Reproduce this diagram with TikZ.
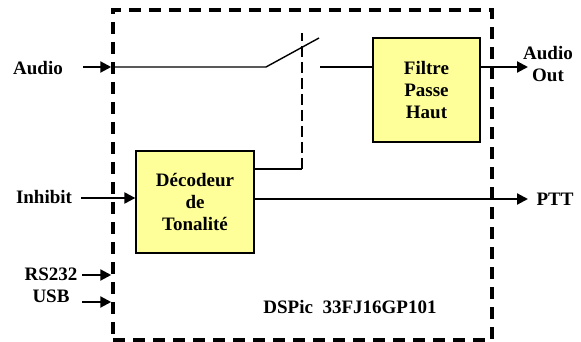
\documentclass[tikz,border=0pt]{standalone}
\usepackage{fontspec}
\setmainfont{Liberation Serif}
\usetikzlibrary{arrows.meta,positioning,calc}
\definecolor{blkfill}{HTML}{FFFF99}

\begin{document}
\begin{tikzpicture}[x=1pt,y=-1pt,font=\fontsize{19}{22}\selectfont\bfseries,
  blk/.style={draw,line width=1.3pt,fill=blkfill,align=center,inner sep=0pt},
  arr/.style={-{Triangle[length=11pt,width=11pt]},line width=2.2pt},
  wire/.style={line width=1.4pt}]
\useasboundingbox (0,0) rectangle (581,342);
% chip outline
\node[draw,line width=3.5pt,dash pattern=on 12pt off 8pt,minimum width=379pt,minimum height=330pt,inner sep=0pt] (dspic) at (302.5,175) {};
\node (chip) at (350,307) {DSPic\ \ 33FJ16GP101};
% blocks
\node[blk,minimum width=107pt,minimum height=104pt] (filt) at (426.5,90) {Filtre\\Passe\\Haut};
\node[blk,minimum width=118pt,minimum height=102pt] (dec) at (195,202) {D\'ecodeur\\de\\Tonalit\'e};
% labels
\node (audio) at (38,68) {Audio};
\node (inhib) at (44,197) {Inhibit};
\node (rs) at (51,274) {RS232};
\node (usb) at (51,296) {USB};
\node[align=center] (aout) at (548,64) {Audio\\Out};
\node (ptt) at (555,199) {PTT};
% free ends
\coordinate (ain) at (83,67);
\coordinate (iin) at (81,198);
\coordinate (rin) at (82,275);
\coordinate (uin) at (82,302);
\coordinate (sw1) at (266,67);
\coordinate (sw2) at (319,38);
\coordinate (sw3) at (320,67);
\coordinate (ctl) at (302,169);
\coordinate (ctltop) at (302,33);
\coordinate (aend) at (528,67);
\coordinate (pend) at (528,199);
% inputs
\foreach \a in {ain,rin,uin} \draw[arr] (\a) -- (\a -| dspic.west);
\draw[arr] (iin) -- (iin -| dec.west);
% audio path and switch
\draw[wire] (ain -| dspic.west) -- (sw1) -- (sw2);
\draw[wire] (sw3) -- (sw3 -| filt.west);
\draw[arr] (sw3 -| filt.east) -- (aend);
% control of the switch
\draw[wire] (ctl -| dec.east) -- (ctl);
\draw[wire,dash pattern=on 11pt off 5pt] (ctl) -- (ctltop);
\draw[arr] (pend -| dec.east) -- (pend);
\end{tikzpicture}
\end{document}
